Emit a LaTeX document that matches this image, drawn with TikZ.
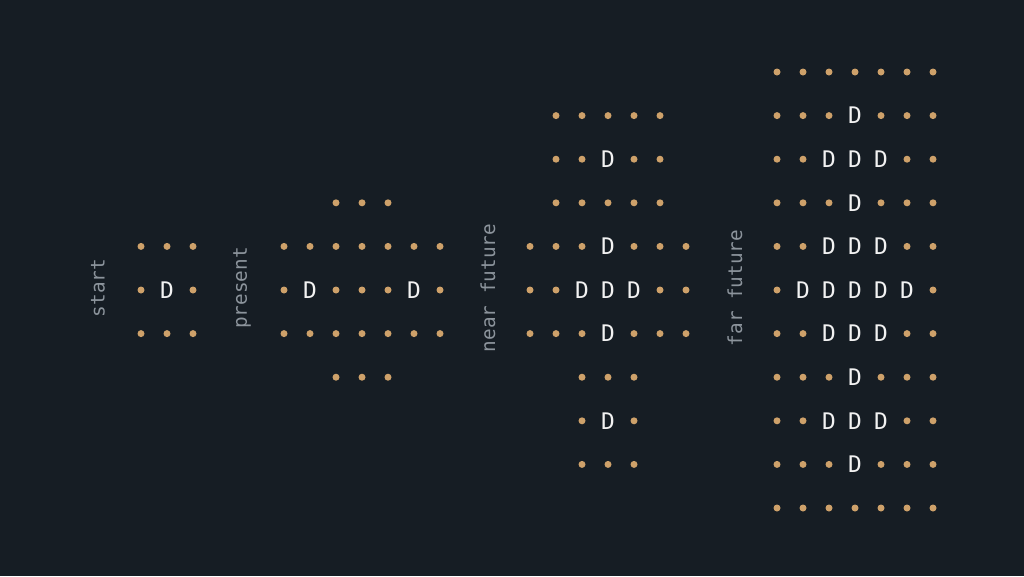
\documentclass[tikz,border=0pt]{standalone}
\usepackage{fontspec}
\setmonofont{DejaVu Sans Mono}
\definecolor{bgcol}{RGB}{22,29,36}
\definecolor{dotcol}{RGB}{206,161,106}
\definecolor{deecol}{RGB}{242,242,242}
\definecolor{labcol}{RGB}{140,148,156}
\newcommand{\gridrow}[4]{%
  \foreach \c [count=\i] in {#4} {
    \if\c D
      \node[dee] (#1-\i) at ({#2+26*(\i-1)},{290+43.6*#3}) {D};
    \else
      \node[dot] (#1-\i) at ({#2+26*(\i-1)},{290+43.6*#3}) {};
    \fi
  }}
\begin{document}
\begin{tikzpicture}[x=0.02cm,y=-0.02cm,
    dot/.style={circle,fill=dotcol,inner sep=0pt,minimum size=7*0.02cm},
    dee/.style={text=deecol,font=\ttfamily\fontsize{13}{14}\selectfont,inner sep=0pt},
    lab/.style={text=labcol,font=\ttfamily\fontsize{11}{12}\selectfont,rotate=90,inner sep=0pt}]
  \fill[bgcol] (0,0) rectangle (1024,576);
  \useasboundingbox (0,0) rectangle (1024,576);

  \node[lab] (start) at (98,288) {start};
  \gridrow{s-a}{141}{-1}{.,.,.}
  \gridrow{s-b}{141}{0}{.,D,.}
  \gridrow{s-c}{141}{1}{.,.,.}

  \node[lab] (present) at (242,288) {present};
  \gridrow{p-a}{336}{-2}{.,.,.}
  \gridrow{p-b}{284}{-1}{.,.,.,.,.,.,.}
  \gridrow{p-c}{284}{0}{.,D,.,.,.,D,.}
  \gridrow{p-d}{284}{1}{.,.,.,.,.,.,.}
  \gridrow{p-e}{336}{2}{.,.,.}

  \node[lab] (near) at (488,288) {near future};
  \gridrow{n-a}{556}{-4}{.,.,.,.,.}
  \gridrow{n-b}{556}{-3}{.,.,D,.,.}
  \gridrow{n-c}{556}{-2}{.,.,.,.,.}
  \gridrow{n-d}{530}{-1}{.,.,.,D,.,.,.}
  \gridrow{n-e}{530}{0}{.,.,D,D,D,.,.}
  \gridrow{n-f}{530}{1}{.,.,.,D,.,.,.}
  \gridrow{n-g}{582}{2}{.,.,.}
  \gridrow{n-h}{582}{3}{.,D,.}
  \gridrow{n-i}{582}{4}{.,.,.}

  \node[lab] (far) at (735,288) {far future};
  \gridrow{f-a}{777}{-5}{.,.,.,.,.,.,.}
  \gridrow{f-b}{777}{-4}{.,.,.,D,.,.,.}
  \gridrow{f-c}{777}{-3}{.,.,D,D,D,.,.}
  \gridrow{f-d}{777}{-2}{.,.,.,D,.,.,.}
  \gridrow{f-e}{777}{-1}{.,.,D,D,D,.,.}
  \gridrow{f-f}{777}{0}{.,D,D,D,D,D,.}
  \gridrow{f-g}{777}{1}{.,.,D,D,D,.,.}
  \gridrow{f-h}{777}{2}{.,.,.,D,.,.,.}
  \gridrow{f-i}{777}{3}{.,.,D,D,D,.,.}
  \gridrow{f-j}{777}{4}{.,.,.,D,.,.,.}
  \gridrow{f-k}{777}{5}{.,.,.,.,.,.,.}
\end{tikzpicture}
\end{document}
